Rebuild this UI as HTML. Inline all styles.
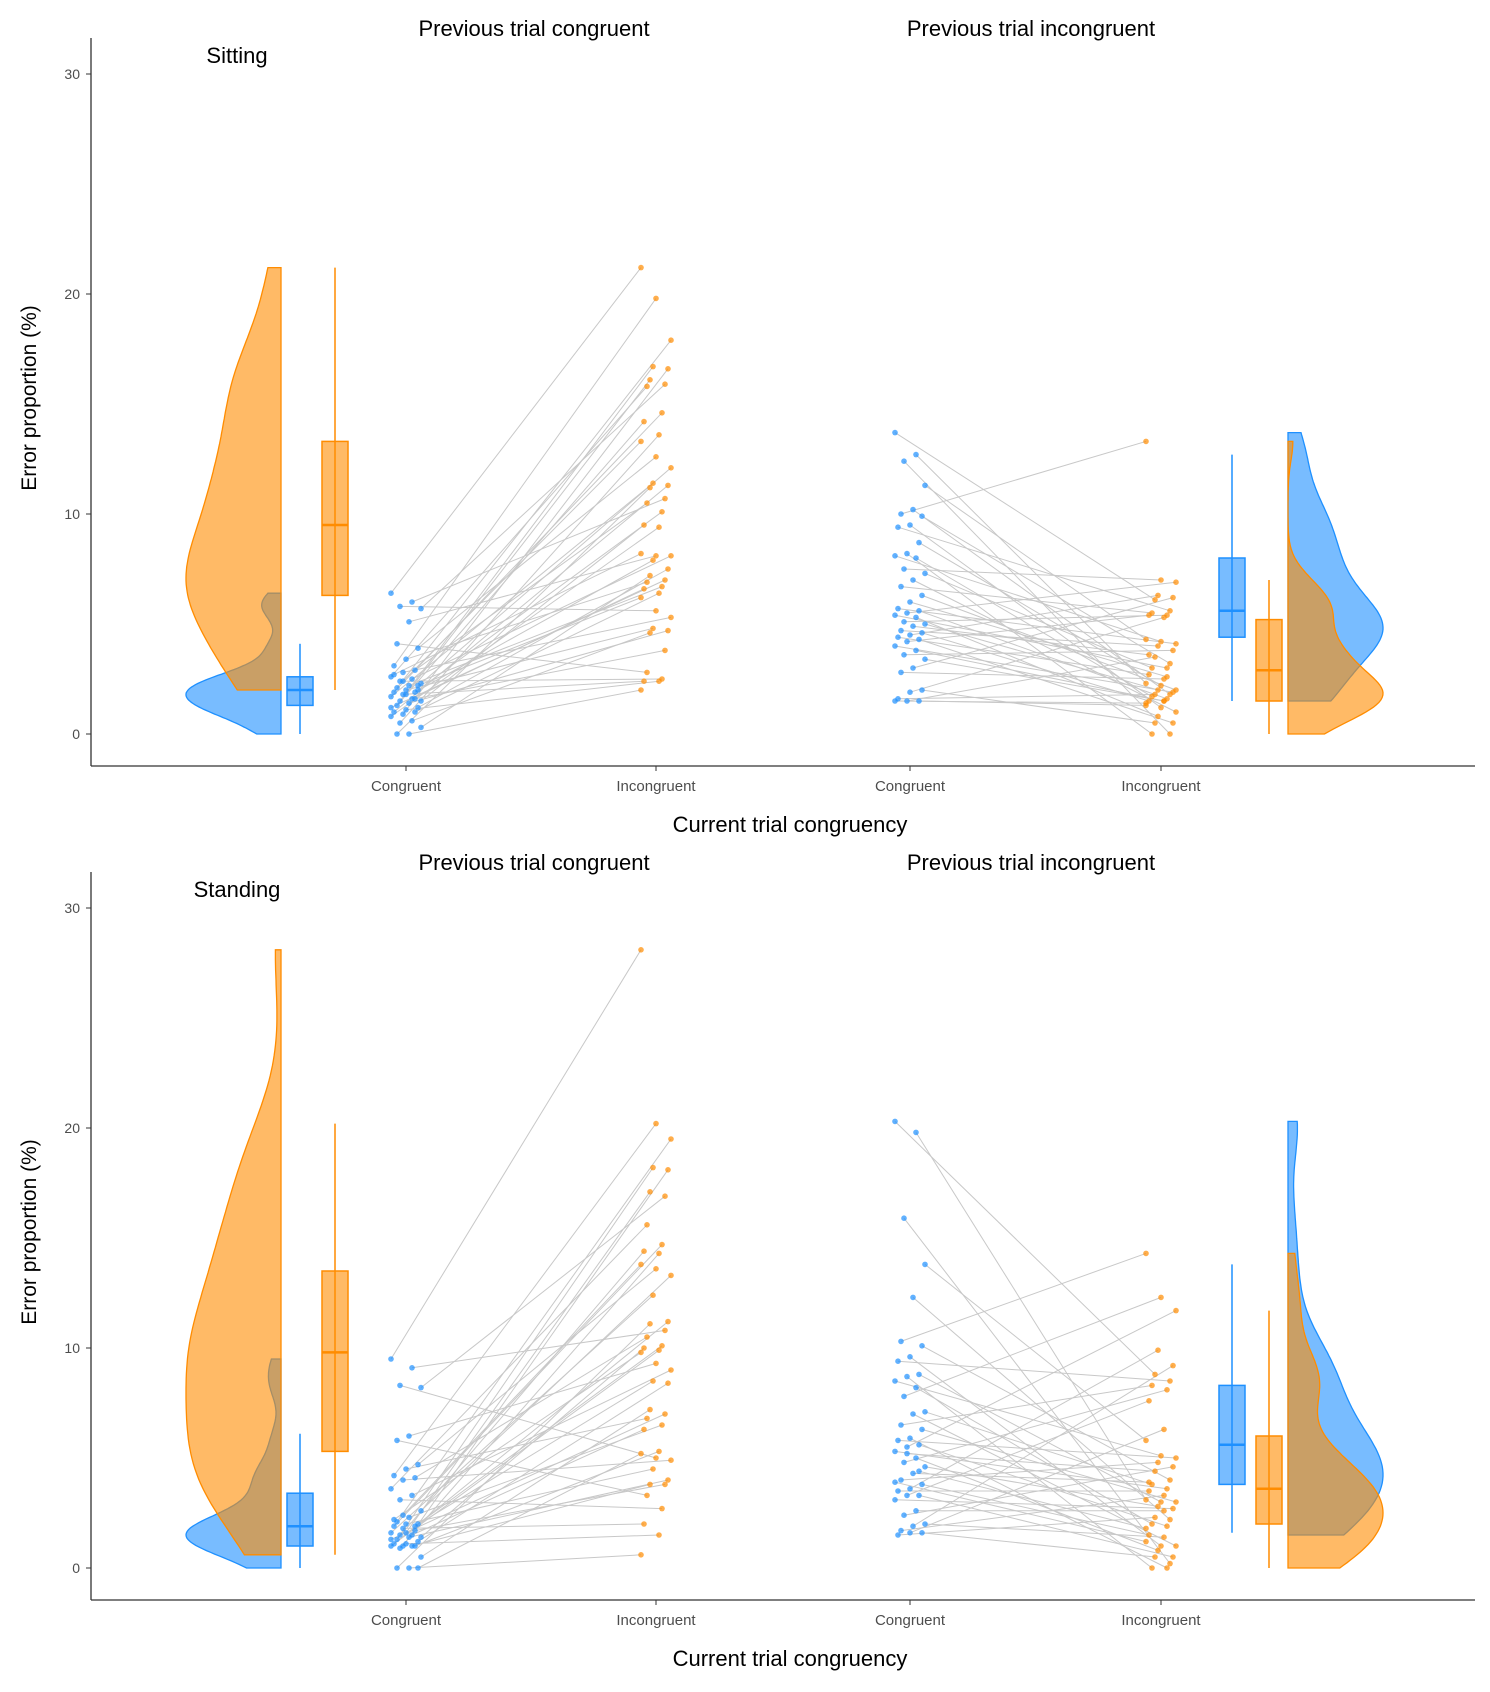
<!DOCTYPE html>
<html><head><meta charset="utf-8"><style>
body{margin:0;background:#fff}
svg text{font-family:"Liberation Sans",sans-serif}
.t{font-family:"Liberation Sans Narrow","Liberation Sans",sans-serif}
</style></head><body>
<svg id="c" width="1490" height="1687" xmlns="http://www.w3.org/2000/svg"></svg>
<script>
// ---- data ----
const categories = ["Congruent","Incongruent","Congruent","Incongruent"];
const panelNames = ["Sitting","Standing"];
const sitPrevCongC = [6.4,6.0,5.8,5.7,5.1,4.1,3.9,3.4,3.1,2.9,2.8,2.6,2.5,2.4,2.3,2.2,2.1,2.0,2.0,1.9,1.9,1.8,1.7,1.6,1.5,1.5,1.4,1.3,1.2,1.1,1.0,1.0,0.9,0.8,0.6,0.5,0.3,0.0,0.0,2.2,1.8,2.7,1.6,2.4,1.2];
const sitPrevCongI = [21.2,19.8,17.9,16.7,16.6,16.1,15.9,15.8,14.6,14.2,13.6,13.3,12.6,12.1,11.4,11.3,11.2,10.7,10.5,10.1,9.5,9.4,8.2,8.1,8.1,7.9,7.5,7.2,7.0,6.9,6.7,6.6,6.4,6.2,5.6,5.3,4.8,4.7,4.6,3.8,2.8,2.5,2.4,2.4,2.0];
const sitPrevIncC = [13.7,12.7,12.4,11.3,10.2,10.0,9.9,9.5,9.4,8.7,8.2,8.1,8.0,7.5,7.3,7.0,6.7,6.3,6.0,5.7,5.6,5.5,5.4,5.3,5.1,5.0,4.9,4.7,4.6,4.5,4.4,4.3,4.2,4.0,3.8,3.6,3.4,3.0,2.8,2.0,1.9,1.6,1.5,1.5,1.5];
const sitPrevIncI = [13.3,7.0,6.9,6.3,6.2,6.1,5.6,5.5,5.4,5.4,5.3,4.3,4.2,4.1,4.0,3.8,3.5,3.2,3.0,3.0,2.7,2.5,2.3,2.2,2.0,2.0,1.9,1.8,1.8,1.7,1.6,1.5,1.5,1.4,1.2,1.0,0.8,0.5,0.5,0.0,0.0,2.6,3.6,1.5,1.3];
const stdPrevCongC = [9.5,9.1,8.3,8.2,6.0,5.8,4.7,4.5,4.2,4.1,4.0,3.6,3.3,3.1,2.6,2.3,2.1,2.0,2.0,1.9,1.9,1.8,1.6,1.5,1.5,1.4,1.4,1.3,1.2,1.1,1.1,1.0,1.0,1.0,1.0,0.9,0.5,0.0,0.0,0.0,1.6,2.2,1.7,2.4,1.3];
const stdPrevCongI = [28.1,20.2,19.5,18.2,18.1,17.1,16.9,15.6,14.7,14.4,14.3,13.8,13.6,13.3,12.4,11.2,11.1,10.8,10.5,10.1,10.0,9.9,9.8,9.3,9.0,8.5,8.4,7.2,7.0,6.8,6.5,6.3,5.3,5.2,5.0,4.9,4.5,4.0,3.8,3.8,3.3,2.7,2.0,1.5,0.6];
const stdPrevIncC = [20.3,19.8,15.9,13.8,12.3,10.3,10.1,9.6,9.4,8.8,8.7,8.5,8.2,7.8,7.1,7.0,6.5,6.3,5.9,5.8,5.6,5.5,5.3,5.0,4.8,4.6,4.3,4.0,3.8,3.6,3.5,3.3,3.3,3.1,2.6,2.4,2.0,1.9,1.7,1.6,1.6,1.5,4.4,5.2,3.9];
const stdPrevIncI = [14.3,12.3,11.7,9.9,9.2,8.8,8.5,8.3,8.1,7.6,6.3,5.8,5.1,5.0,4.8,4.6,4.4,4.0,3.8,3.6,3.5,3.3,3.1,3.0,3.0,2.8,2.7,2.3,2.2,2.0,1.9,1.5,1.4,1.2,1.0,1.0,0.8,0.5,0.5,0.2,0.0,0.0,3.9,2.6,1.8];
// box stats: [whiskerLow, q1, median, q3, whiskerHigh]
const sitBoxCong = [0,1.3,2.0,2.6,4.1];
const sitBoxIncong = [2.0,6.3,9.5,13.3,21.2];
const sitBoxCongR = [1.5,4.4,5.6,8.0,12.7];
const sitBoxIncongR = [0,1.5,2.9,5.2,7.0];
const stdBoxCong = [0,1.0,1.9,3.4,6.1];
const stdBoxIncong = [0.6,5.3,9.8,13.5,20.2];
const stdBoxCongR = [1.6,3.8,5.6,8.3,13.8];
const stdBoxIncongR = [0,2.0,3.6,6.0,11.7];
const yTicks = [0,10,20,30];

// ---- drawing ----
const svg=document.getElementById('c'), NS='http://www.w3.org/2000/svg';
const BLUE='#1e90ff', ORANGE='#ff8c00';
function mk(tag,at,parent){const e=document.createElementNS(NS,tag);for(const k in at)e.setAttribute(k,at[k]);(parent||svg).appendChild(e);return e;}
const catX=[406,656,910,1161];
function nrd0(a){const n=a.length,m=a.reduce((s,v)=>s+v,0)/n;const sd=Math.sqrt(a.reduce((s,v)=>s+(v-m)*(v-m),0)/(n-1));const s=[...a].sort((x,y)=>x-y);const q=p=>{const h=(n-1)*p,l=Math.floor(h);return s[l]+(s[Math.min(l+1,n-1)]-s[l])*(h-l);};const iqr=(q(.75)-q(.25))/1.34;return 0.9*Math.min(sd,iqr>0?iqr:sd)*Math.pow(n,-0.2);}
function violinPath(data,edgeX,dir,ys){const bw=nrd0(data);const mn=Math.min(...data),mx=Math.max(...data);const pts=[];let maxd=0;const N=120;for(let i=0;i<=N;i++){const v=mn+(mx-mn)*i/N;let d=0;for(const x of data){const z=(v-x)/bw;d+=Math.exp(-0.5*z*z);}pts.push([v,d]);if(d>maxd)maxd=d;}
 let p='M'+edgeX+','+ys(mn);for(const [v,d] of pts)p+=' L'+(edgeX+dir*d/maxd*95).toFixed(1)+','+ys(v).toFixed(1);p+=' L'+edgeX+','+ys(mx)+' Z';return p;}
function box(g,st,x,w,col,ys,name){const b=mk('g',{},g);
 mk('line',{x1:x+w/2,x2:x+w/2,y1:ys(st[0]),y2:ys(st[4]),stroke:col,'stroke-width':1.5},b);
 mk('rect',{x:x,y:ys(st[3]),width:w,height:ys(st[1])-ys(st[3]),fill:col,'fill-opacity':0.6,stroke:col,'stroke-width':1.5},b);
 mk('line',{x1:x,x2:x+w,y1:ys(st[2]),y2:ys(st[2]),stroke:col,'stroke-width':2.5},b);}

function panel(off,name,lc,li,rc,ri,bx){
 const g=mk('g',{});
 const y0=734+off;const ys=v=>y0-v*22;
 // axes
 const ax=mk('line',{x1:91,x2:91,y1:38+off,y2:766+off,stroke:'#333','stroke-width':1.3},g);
 const xa=mk('line',{x1:91,x2:1475,y1:766+off,y2:766+off,stroke:'#333','stroke-width':1.3},g);
 yTicks.forEach(t=>{mk('line',{x1:86,x2:91,y1:ys(t),y2:ys(t),stroke:'#333'},g);const tx=mk('text',{x:80,y:ys(t)+5,'text-anchor':'end','font-size':14,fill:'#4d4d4d',class:'t'},g);tx.textContent=t;});
 categories.forEach((c,i)=>{mk('line',{x1:catX[i],x2:catX[i],y1:766+off,y2:771+off,stroke:'#333'},g);const tx=mk('text',{x:catX[i],y:791+off,'text-anchor':'middle','font-size':15,fill:'#4d4d4d',class:'t'},g);tx.textContent=c;});
 // violins
 const v1=mk('path',{d:violinPath(lc,281,-1,ys),fill:BLUE,'fill-opacity':0.6,stroke:BLUE,'stroke-width':1.3},g);
 const v2=mk('path',{d:violinPath(li,281,-1,ys),fill:ORANGE,'fill-opacity':0.6,stroke:ORANGE,'stroke-width':1.3},g);
 const v3=mk('path',{d:violinPath(rc,1288,1,ys),fill:BLUE,'fill-opacity':0.6,stroke:BLUE,'stroke-width':1.3},g);
 const v4=mk('path',{d:violinPath(ri,1288,1,ys),fill:ORANGE,'fill-opacity':0.6,stroke:ORANGE,'stroke-width':1.3},g);
 box(g,bx[0],287,26,BLUE,ys,'box-congruent-left');box(g,bx[1],322,26,ORANGE,ys,'box-incongruent-left');
 box(g,bx[2],1219,26,BLUE,ys,'box-congruent-right');box(g,bx[3],1256,26,ORANGE,ys,'box-incongruent-right');
 // paired lines & points
 const pairs=[[lc,li,0,1],[rc,ri,2,3]];
 pairs.forEach(([A,B,ca,cb],pi)=>{const n=A.length;
  for(let i=0;i<n;i++){const j=(i*17+pi*5)%n;const ja=((i*7)%11-5)*3,jb=((j*5)%11-5)*3;
   const ln=mk('line',{x1:catX[ca]+ja,y1:ys(A[i]),x2:catX[cb]+jb,y2:ys(B[j]),stroke:'#c8c8c8','stroke-width':1},g);
   }
  for(let i=0;i<n;i++){const ja=((i*7)%11-5)*3;const p=mk('circle',{cx:catX[ca]+ja,cy:ys(A[i]),r:2.8,fill:BLUE,'fill-opacity':0.7},g);}
  for(let j=0;j<n;j++){const jb=((j*5)%11-5)*3;const p=mk('circle',{cx:catX[cb]+jb,cy:ys(B[j]),r:2.8,fill:ORANGE,'fill-opacity':0.7},g);}
 });
 // labels
 const lab=(txt,x,y,sz,nm,extra)=>{const t=mk('text',Object.assign({x:x,y:y,'text-anchor':'middle','font-size':sz,fill:'#000',class:'t'},extra||{}),g);t.textContent=txt;return t;};
 lab('Previous trial congruent',534,36+off,22,'facet-title-congruent');
 lab('Previous trial incongruent',1031,36+off,22,'facet-title-incongruent');
 lab(name,237,63+off,22,'panel-label');
 lab('Current trial congruency',790,832+off,22,'x-axis-title');
 lab('Error proportion (%)',36,398+off,21,'y-axis-title',{transform:'rotate(-90 36 '+(398+off)+')'});
}
panel(0,panelNames[0],sitPrevCongC,sitPrevCongI,sitPrevIncC,sitPrevIncI,[sitBoxCong,sitBoxIncong,sitBoxCongR,sitBoxIncongR]);
panel(834,panelNames[1],stdPrevCongC,stdPrevCongI,stdPrevIncC,stdPrevIncI,[stdBoxCong,stdBoxIncong,stdBoxCongR,stdBoxIncongR]);
</script>
</body></html>
